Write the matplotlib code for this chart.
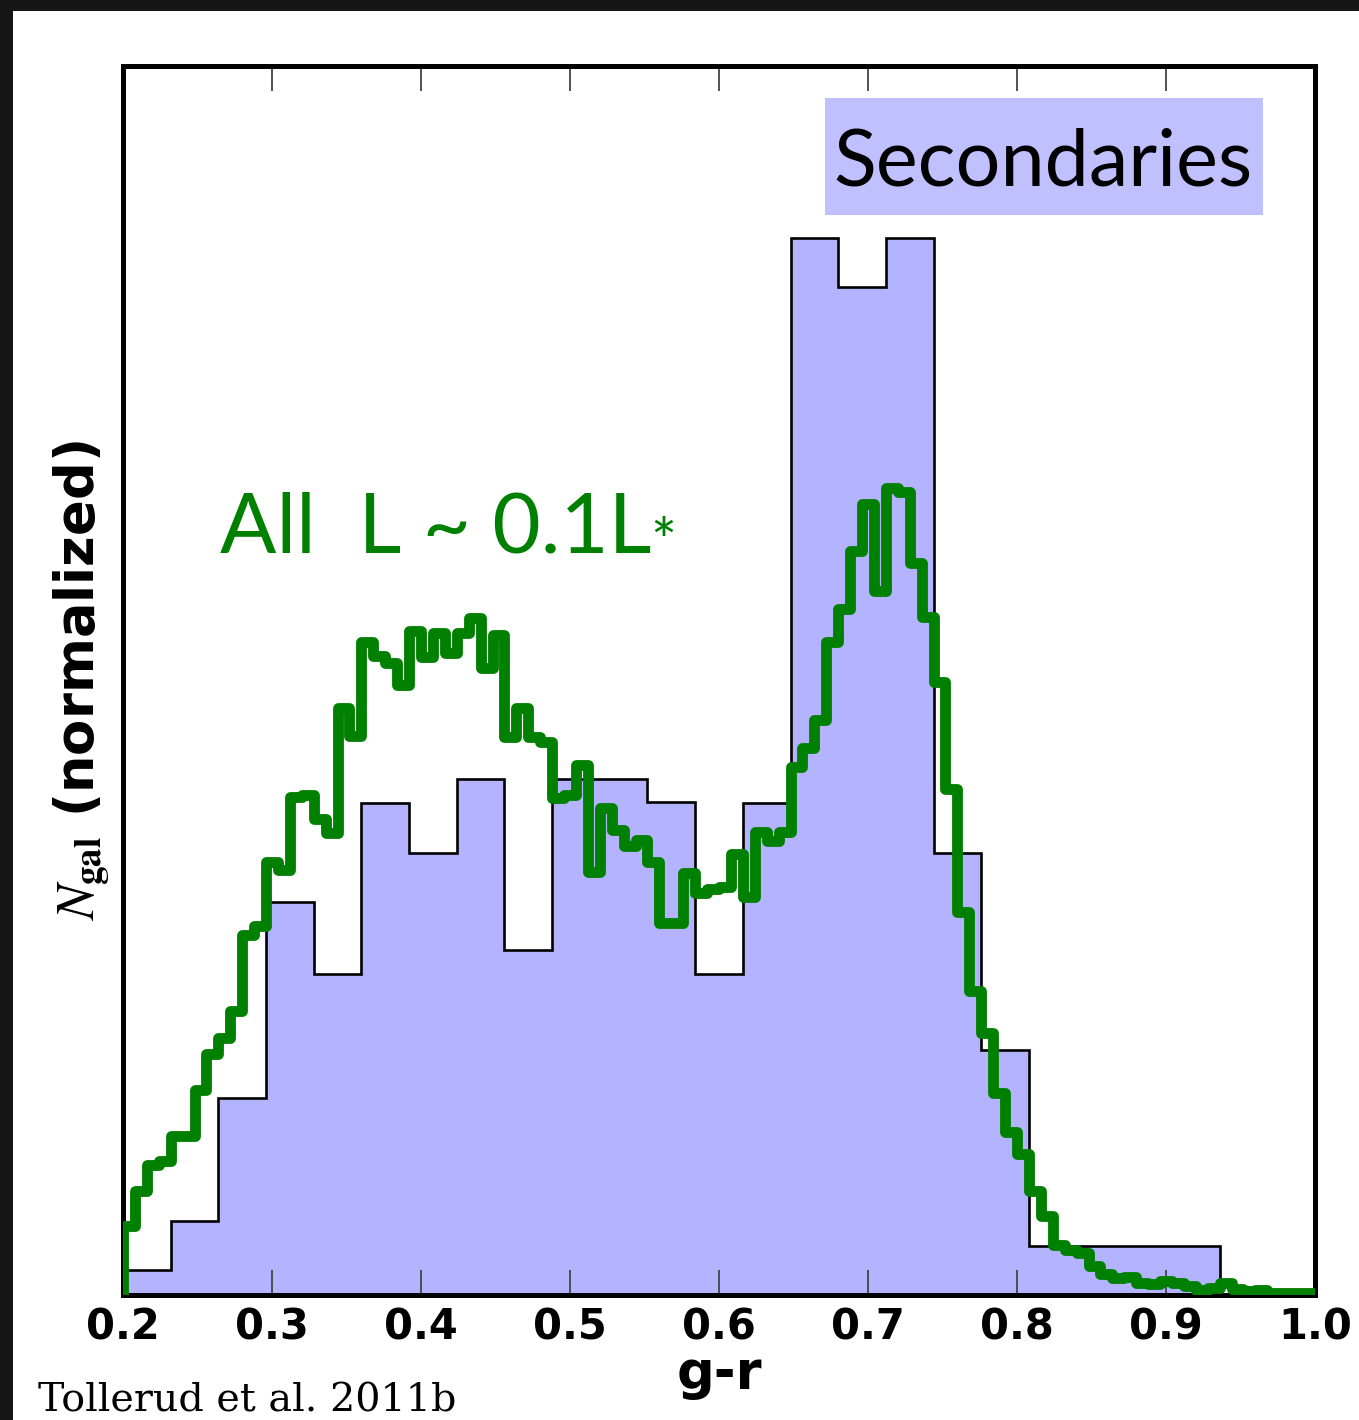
# =========================
# IMPORTS
# =========================
import numpy as np
import matplotlib
matplotlib.use("Agg")
import matplotlib.pyplot as plt
from matplotlib.patches import Rectangle

plt.rcParams["mathtext.fontset"] = "stix"

# =========================
# DATA (g-r colour histograms, normalized)
# =========================
X_MIN, X_MAX = 0.2, 1.0

# Secondaries: 25 bins of 0.032
sec_heights = [
    0.020, 0.060, 0.160, 0.320, 0.261, 0.400, 0.360, 0.420, 0.281, 0.420,
    0.420, 0.401, 0.261, 0.400, 0.860, 0.820, 0.860, 0.360, 0.199, 0.040,
    0.040, 0.040, 0.040, 0.000, 0.000,
]

# All L ~ 0.1 L*: 100 bins of 0.008
all_heights = [
    0.056, 0.085, 0.106, 0.109, 0.129, 0.129, 0.167, 0.196, 0.209, 0.231,
    0.293, 0.300, 0.352, 0.346, 0.405, 0.407, 0.387, 0.376, 0.478, 0.455,
    0.531, 0.520, 0.514, 0.496, 0.540, 0.519, 0.539, 0.522, 0.539, 0.551,
    0.510, 0.537, 0.454, 0.478, 0.454, 0.450, 0.404, 0.407, 0.431, 0.344,
    0.396, 0.378, 0.365, 0.370, 0.352, 0.303, 0.303, 0.343, 0.327, 0.330,
    0.332, 0.359, 0.324, 0.377, 0.369, 0.377, 0.430, 0.445, 0.468, 0.531,
    0.558, 0.605, 0.644, 0.573, 0.657, 0.653, 0.596, 0.552, 0.499, 0.412,
    0.312, 0.247, 0.213, 0.164, 0.133, 0.115, 0.085, 0.064, 0.041, 0.037,
    0.034, 0.024, 0.017, 0.014, 0.015, 0.010, 0.009, 0.011, 0.010, 0.007,
    0.004, 0.006, 0.010, 0.005, 0.003, 0.004, 0.002, 0.002, 0.002, 0.002,
]

x_ticks = [0.2, 0.3, 0.4, 0.5, 0.6, 0.7, 0.8, 0.9, 1.0]
x_tick_labels = ["0.2", "0.3", "0.4", "0.5", "0.6", "0.7", "0.8", "0.9", "1.0"]

sec_edges = np.linspace(X_MIN, X_MAX, len(sec_heights) + 1)
all_edges = np.linspace(X_MIN, X_MAX, len(all_heights) + 1)

# =========================
# FIGURE
# =========================
fig = plt.figure(figsize=(13.59, 14.20), dpi=100, facecolor="#161616")
# white slide panel over the dark background
fig.patches.append(Rectangle((13 / 1359, 0), 1, (1420 - 11) / 1420,
                             transform=fig.transFigure, facecolor="white",
                             edgecolor="none", zorder=-10))

ax = fig.add_axes([123 / 1359, 125 / 1420, 1192 / 1359, 1229 / 1420])
ax.set_facecolor("white")

ax.stairs(sec_heights, sec_edges, fill=True, color="#b3b3ff", zorder=1)
ax.stairs(sec_heights, sec_edges, color="black", linewidth=1.9, zorder=2)
ax.stairs(all_heights, all_edges, color="#008000", linewidth=7.8,
          joinstyle="round", zorder=3)

ax.set_xlim(X_MIN, X_MAX)
ax.set_ylim(0, 1)
ax.set_xticks(x_ticks)
ax.set_xticklabels(x_tick_labels, fontsize=30, fontweight="bold")
ax.set_yticks([])
ax.tick_params(axis="x", direction="in", length=18, width=1.3,
               color="#444444", top=True, pad=8)
for sp in ax.spines.values():
    sp.set_linewidth(3.6)

ax.set_xlabel("g-r", fontsize=38, fontweight="bold", labelpad=0)
ax.set_ylabel(r"$N_{\mathbf{gal}}$ (normalized)", fontsize=38,
              fontweight="bold", labelpad=8)

# labels inside the axes
ax.add_patch(Rectangle((0.589, 0.879), 0.367, 0.095, transform=ax.transAxes,
                       facecolor="#c0c0ff", edgecolor="none", zorder=4))
ax.text(0.772, 0.921, "Secondaries", transform=ax.transAxes, fontsize=57,
        family="Lato", ha="center", va="center", zorder=5)
ax.text(0.081, 0.604, "All  L ~ 0.1L", transform=ax.transAxes,
        fontsize=60, family="Lato", color="#008000", ha="left",
        va="baseline", zorder=5)
ax.text(0.442, 0.596, "*", transform=ax.transAxes,
        fontsize=44, family="Lato", color="#008000", ha="left",
        va="baseline", zorder=5)

fig.text(38 / 1359, 8 / 1420, "Tollerud et al. 2011b", fontsize=28.5,
         family="DejaVu Serif", ha="left", va="baseline")

fig.savefig("out.png", dpi=100, facecolor=fig.get_facecolor())
